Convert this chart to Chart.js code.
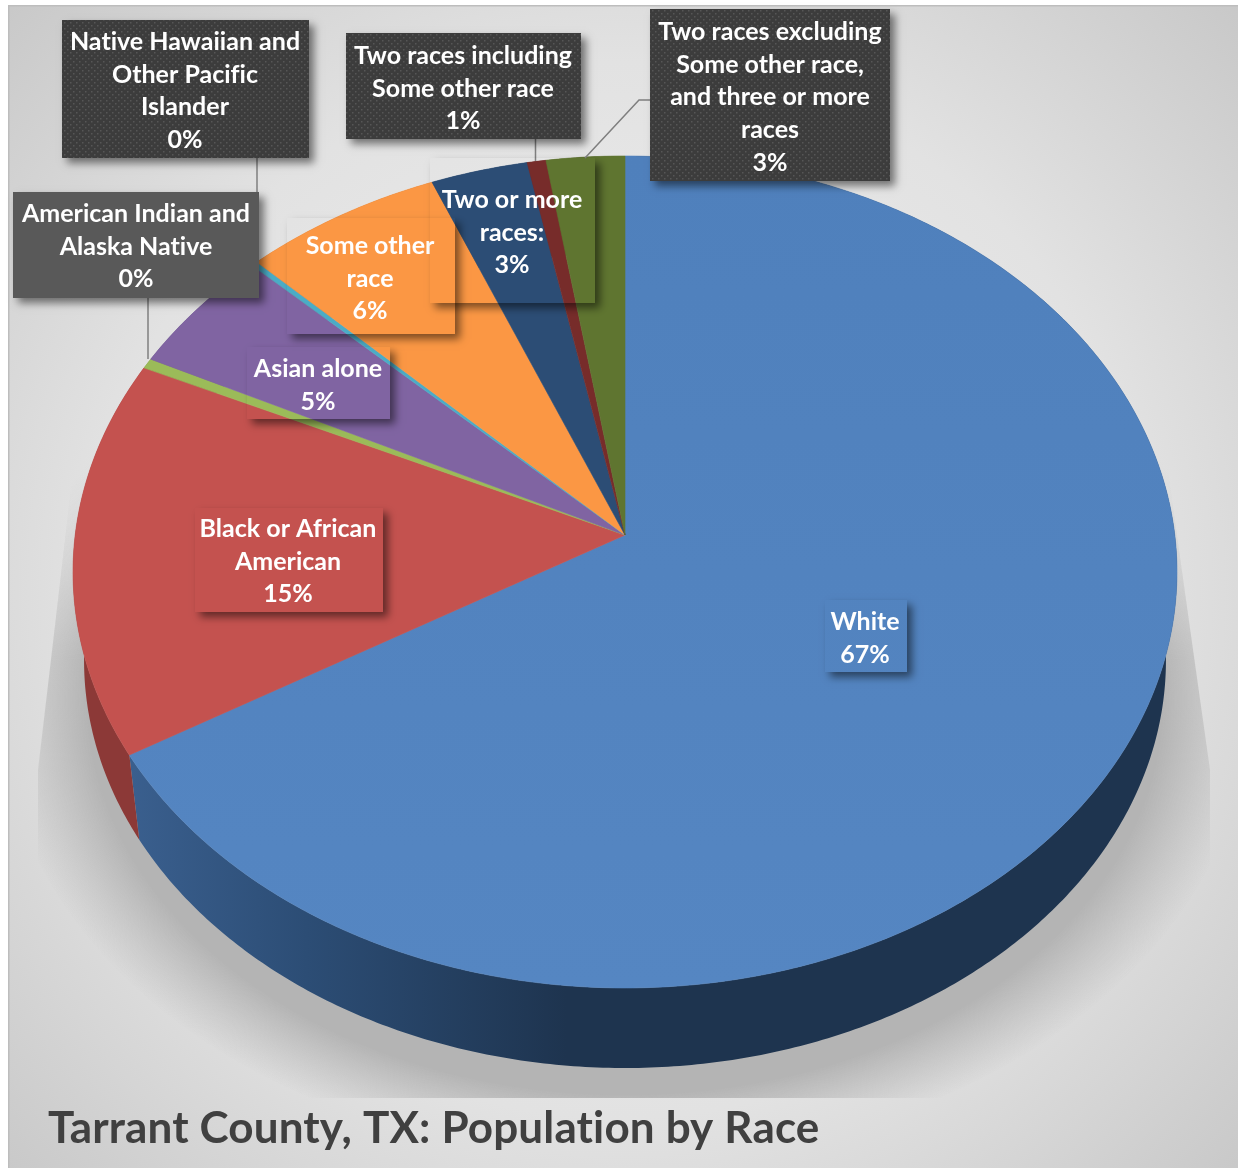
<!DOCTYPE html>
<html>
<head>
<meta charset="utf-8">
<title>Tarrant County, TX: Population by Race</title>
<script src="https://cdn.jsdelivr.net/npm/chart.js@4"></script>
<style>
  html, body { margin: 0; padding: 0; background: #fff; }
  canvas { display: block; }
</style>
</head>
<body>
<canvas id="pieChart" width="1238" height="1169"></canvas>
<script>
const categories = [
  "White",
  "Black or African\nAmerican",
  "American Indian and\nAlaska Native",
  "Asian alone",
  "Native Hawaiian and\nOther Pacific\nIslander",
  "Some other\nrace",
  "Two or more\nraces:",
  "Two races including\nSome other race",
  "Two races excluding\nSome other race,\nand three or more\nraces",
];
const shares = [66.5, 15.4, 0.4, 4.9, 0.2, 6.4, 3.1, 0.6, 2.5];
const sliceColors = ["#4f81bd", "#c4524f", "#9bbb59", "#8064a2", "#4bacc6", "#fb9744", "#2c4d75", "#772c2a", "#5f7530"];
const wallColors = ["#1e344f", "#8c3937", "#6f8640", "#5b4774", "#357a8d", "#b36a30", "#1e3552", "#541f1e", "#435322"];

// label boxes: x, y, w, h, text centre x, first line centre y, style
const labelBoxes = [
  { x: 825, y: 600, w: 82, h: 72, cx: 865, top: 622, style: "clear" },
  { x: 195, y: 508, w: 188, h: 104, cx: 288, top: 529, style: "clear" },
  { x: 13, y: 192, w: 246, h: 106, cx: 136, top: 214, style: "flat" },
  { x: 247, y: 347, w: 143, h: 72, cx: 318, top: 369, style: "clear" },
  { x: 62, y: 20, w: 247, h: 138, cx: 185, top: 42, style: "dotted" },
  { x: 287, y: 218, w: 168, h: 116, cx: 370, top: 246, style: "clear" },
  { x: 430, y: 158, w: 165, h: 145, cx: 512, top: 200, style: "clear" },
  { x: 346, y: 33, w: 235, h: 106, cx: 463, top: 56, style: "dotted" },
  { x: 650, y: 9, w: 240, h: 172, cx: 770, top: 32, style: "dotted" },
];
const calloutLines = [
  [[257, 158], [257, 262]],
  [[148, 298], [148, 359]],
  [[535.5, 139], [535.5, 161]],
  [[650, 100], [639, 100], [585, 158]],
];

// Top face is a tilted circle, so its centre sits above the middle of the ellipse.
const CX = 625, APEX_Y = 535, PERSP = -0.0889, RX = 549.8, RY = 412.7;
// The lower rim is the upper rim scaled towards the vanishing point under the pie.
const VANISH_Y = 4990, WALL_SCALE = 0.98;

function project(angle, lower) {
  const u = Math.cos(angle), v = Math.sin(angle);
  const d = 1 + PERSP * v;
  let x = CX + RX * u / d;
  let y = APEX_Y + RY * v / d;
  if (lower) {
    x = CX + (x - CX) * WALL_SCALE;
    y = VANISH_Y + (y - VANISH_Y) * WALL_SCALE;
  }
  return [x, y];
}

function rimPoints(start, end, lower) {
  const steps = Math.max(2, Math.ceil((end - start) / 0.01));
  const pts = [];
  for (let i = 0; i <= steps; i++) pts.push(project(start + (end - start) * i / steps, lower));
  return pts;
}

function tracePolygon(ctx, pts) {
  ctx.beginPath();
  pts.forEach((p, i) => (i ? ctx.lineTo(p[0], p[1]) : ctx.moveTo(p[0], p[1])));
  ctx.closePath();
}

// floor shadow on its own layer: fades out upwards, cut off flat at the bottom
function floorShadow() {
  const layer = document.createElement("canvas");
  layer.width = 1238;
  layer.height = 1169;
  const c = layer.getContext("2d");
  c.beginPath();
  c.moveTo(1162, 430);
  c.lineTo(1210, 770);
  c.lineTo(1210, 1098);
  c.lineTo(38, 1098);
  c.lineTo(38, 770);
  c.lineTo(78, 430);
  c.closePath();
  c.clip();
  c.save();
  c.translate(625, 700);
  c.scale(1, 470 / 640);
  const shade = c.createRadialGradient(0, 0, 0, 0, 0, 640);
  shade.addColorStop(0, "rgba(180,180,180,1)");
  shade.addColorStop(0.84, "rgba(180,180,180,1)");
  shade.addColorStop(0.98, "rgba(180,180,180,0)");
  c.fillStyle = shade;
  c.fillRect(-700, -700, 1400, 1400);
  c.restore();
  const fade = c.createLinearGradient(0, 430, 0, 660);
  fade.addColorStop(0, "rgba(0,0,0,0)");
  fade.addColorStop(1, "rgba(0,0,0,1)");
  c.globalCompositeOperation = "destination-in";
  c.fillStyle = fade;
  c.fillRect(0, 0, 1238, 1169);
  return layer;
}

function drawBackdrop(ctx) {
  ctx.fillStyle = "#fff";
  ctx.fillRect(0, 0, 1238, 1169);
  const bg = ctx.createRadialGradient(620, 590, 0, 620, 590, 880);
  bg.addColorStop(0, "#f2f2f2");
  bg.addColorStop(0.6, "#e2e2e2");
  bg.addColorStop(1, "#c6c6c6");
  ctx.fillStyle = bg;
  ctx.fillRect(8, 5, 1230, 1163);
  ctx.fillStyle = "#bdbdbd";
  ctx.fillRect(8, 5, 1230, 1.5);
  ctx.fillRect(8, 5, 1.5, 1163);
  ctx.drawImage(floorShadow(), 0, 0);
}

function drawPie(ctx, arcs) {
  arcs.forEach((arc, i) => {
    const outline = rimPoints(arc.startAngle, arc.endAngle, false)
      .concat(rimPoints(arc.startAngle, arc.endAngle, true).reverse());
    tracePolygon(ctx, outline);
    if (i === 0) {
      const g = ctx.createLinearGradient(130, 0, 1170, 0);
      g.addColorStop(0, "#3a5f8e");
      g.addColorStop(0.17, "#2c4d75");
      g.addColorStop(0.42, wallColors[0]);
      g.addColorStop(1, wallColors[0]);
      ctx.fillStyle = g;
    } else {
      ctx.fillStyle = wallColors[i];
    }
    ctx.fill();
  });
  arcs.forEach((arc, i) => {
    tracePolygon(ctx, [[CX, APEX_Y]].concat(rimPoints(arc.startAngle, arc.endAngle, false)));
    let fill = sliceColors[i];
    if (i === 0) {
      // the big slice gets a touch lighter towards the front
      fill = ctx.createLinearGradient(0, 156, 0, 988);
      fill.addColorStop(0, "#4f80bc");
      fill.addColorStop(1, "#5586c2");
    }
    ctx.fillStyle = fill;
    ctx.strokeStyle = fill;
    ctx.lineWidth = 0.6;
    ctx.fill();
    ctx.stroke();
  });
}

function dotPattern(ctx) {
  const tile = document.createElement("canvas");
  tile.width = tile.height = 6;
  const t = tile.getContext("2d");
  t.fillStyle = "#3c3c3c";
  t.fillRect(0, 0, 6, 6);
  t.fillStyle = "#565656";
  t.fillRect(1, 1, 1.5, 1.5);
  t.fillRect(4, 4, 1.5, 1.5);
  return ctx.createPattern(tile, "repeat");
}

function drawLabels(ctx) {
  ctx.strokeStyle = "#7f7f7f";
  ctx.lineWidth = 1.5;
  calloutLines.forEach((line) => {
    ctx.beginPath();
    line.forEach((p, i) => (i ? ctx.lineTo(p[0], p[1]) : ctx.moveTo(p[0], p[1])));
    ctx.stroke();
  });

  const dots = dotPattern(ctx);
  labelBoxes.forEach((box, i) => {
    // shadow only, outside the box, so clear boxes let the slices show through
    ctx.save();
    ctx.beginPath();
    ctx.rect(0, 0, 1238, 1169);
    ctx.rect(box.x, box.y, box.w, box.h);
    ctx.clip("evenodd");
    ctx.shadowColor = "rgba(0,0,0,0.5)";
    ctx.shadowBlur = 8;
    ctx.shadowOffsetX = 5;
    ctx.shadowOffsetY = 5;
    ctx.fillStyle = "#000";
    ctx.fillRect(box.x, box.y, box.w, box.h);
    ctx.restore();

    if (box.style === "flat") {
      ctx.fillStyle = "#595959";
      ctx.fillRect(box.x, box.y, box.w, box.h);
    } else if (box.style === "dotted") {
      ctx.fillStyle = dots;
      ctx.fillRect(box.x, box.y, box.w, box.h);
    }

    const lines = categories[i].split("\n").concat(Math.round(shares[i]) + "%");
    ctx.save();
    ctx.fillStyle = "#fff";
    ctx.font = "700 25px Lato";
    ctx.letterSpacing = "0.01px"; // keeps "fi" from turning into a ligature
    ctx.textAlign = "center";
    ctx.textBaseline = "middle";
    lines.forEach((line, n) => ctx.fillText(line, box.cx, box.top + n * 32.7));
    ctx.restore();
  });
}

const pie3d = {
  id: "pie3d",
  beforeDraw(chart) {
    chart.ctx.letterSpacing = "0.15px";
    drawBackdrop(chart.ctx);
  },
  beforeDatasetsDraw(chart) {
    const arcs = chart.getDatasetMeta(0).data;
    drawPie(chart.ctx, arcs);
    drawLabels(chart.ctx);
    return false;
  },
};

new Chart(document.getElementById("pieChart"), {
  type: "pie",
  data: {
    labels: categories,
    datasets: [{ data: shares, backgroundColor: sliceColors }],
  },
  options: {
    responsive: false,
    animation: false,
    layout: { padding: { left: 48, bottom: 14 } },
    plugins: {
      legend: { display: false },
      tooltip: { enabled: false },
      title: {
        display: true,
        text: "Tarrant County, TX: Population by Race",
        position: "bottom",
        align: "start",
        color: "#404040",
        font: { family: "Lato", weight: "700", size: 44 },
        padding: 0,
      },
    },
  },
  plugins: [pie3d],
});
</script>
</body>
</html>
